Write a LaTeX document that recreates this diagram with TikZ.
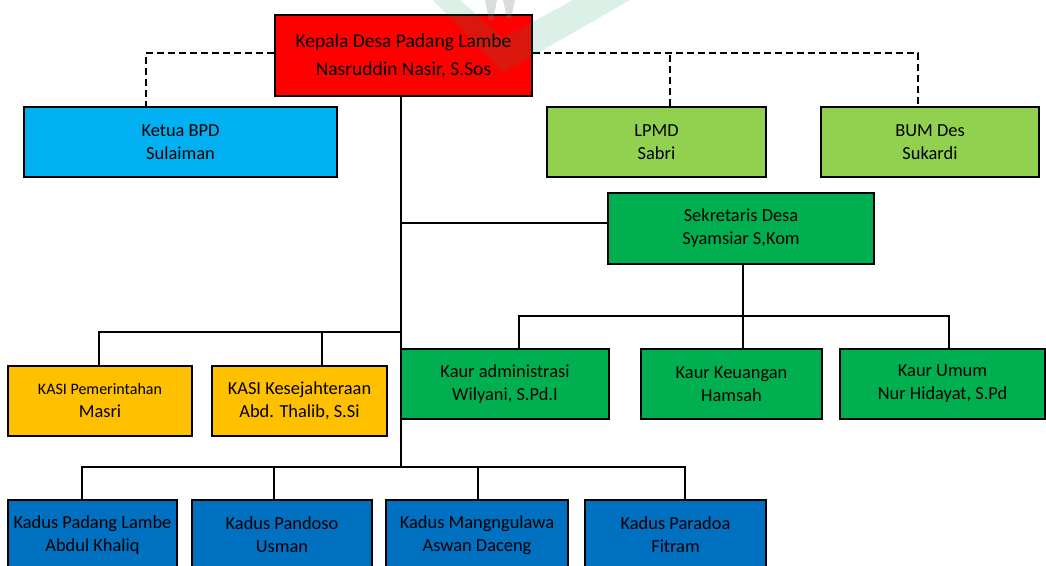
\documentclass[tikz,border=0pt]{standalone}
\usepackage{fontspec}
\setmainfont{Carlito}
\definecolor{cred}{HTML}{FF0000}
\definecolor{cskyblue}{HTML}{00B0F0}
\definecolor{clightgreen}{HTML}{92D050}
\definecolor{cgreen}{HTML}{00B050}
\definecolor{corange}{HTML}{FFC000}
\definecolor{cblue}{HTML}{0070C0}
\definecolor{wmgreen}{RGB}{0,160,90}
\definecolor{wmgray}{RGB}{120,135,130}
\begin{document}
\begin{tikzpicture}[x=1pt,y=-1pt,
  box/.style={draw=black,line width=1.8pt,inner sep=0pt,align=center,
    font=\fontsize{18.4}{23}\selectfont,text=black},
  conn/.style={line width=1.8pt,black},
  dconn/.style={line width=2.4pt,black,dash pattern=on 7pt off 4pt}]
\useasboundingbox (0,0) rectangle (1046,565);
\clip (0,0) rectangle (1046,565);
\fill[white] (0,0) rectangle (1046,565);

% boxes
\node[box,fill=cred,minimum width=257,minimum height=81,
  font=\fontsize{19.5}{23}\selectfont] (kepala) at (403.5,55.5)
  {Kepala Desa Padang Lambe\\[5pt]Nasruddin Nasir, S.Sos};
\node[box,fill=cskyblue,minimum width=313,minimum height=70] (bpd) at (180.5,142)
  {Ketua BPD\\Sulaiman};
\node[box,fill=clightgreen,minimum width=219,minimum height=70] (lpmd) at (656.5,142)
  {LPMD\\Sabri};
\node[box,fill=clightgreen,minimum width=218,minimum height=70] (bum) at (930,142)
  {BUM Des\\Sukardi};
\node[box,fill=cgreen,minimum width=266,minimum height=71] (sek) at (741,228.5)
  {Sekretaris Desa\\Syamsiar S,Kom};
\node[box,fill=cgreen,minimum width=208,minimum height=70] (kaur1) at (505,384)
  {Kaur administrasi\\Wilyani, S.Pd.I};
\node[box,fill=cgreen,minimum width=181,minimum height=70] (kaur2) at (731.5,384)
  {Kaur Keuangan\\Hamsah};
\node[box,fill=cgreen,minimum width=205,minimum height=70] (kaur3) at (942.5,384)
  {Kaur Umum\\Nur Hidayat, S.Pd};
\node[box,fill=corange,minimum width=184,minimum height=70] (kasi1) at (100,401)
  {{\fontsize{16}{19}\selectfont KASI Pemerintahan}\\Masri};
\node[box,fill=corange,minimum width=175,minimum height=70] (kasi2) at (299.5,401)
  {KASI Kesejahteraan\\Abd. Thalib, S.Si};
\node[box,fill=cblue,minimum width=169,minimum height=70] (kadus1) at (92.5,535)
  {Kadus Padang Lambe\\Abdul Khaliq};
\node[box,fill=cblue,minimum width=180,minimum height=70] (kadus2) at (282,535)
  {Kadus Pandoso\\Usman};
\node[box,fill=cblue,minimum width=182,minimum height=70] (kadus3) at (477,535)
  {Kadus Mangngulawa\\Aswan Daceng};
\node[box,fill=cblue,minimum width=181,minimum height=70] (kadus4) at (675.5,535)
  {Kadus Paradoa\\Fitram};

% bus coordinates
\coordinate (trunk) at (401,467);
\coordinate (kasibus) at (401,332);
\coordinate (kaurbus) at (743,316);
\coordinate (sekin) at ([yshift=5.5pt]sek.west);
\coordinate (dl) at ([yshift=2.5pt]kepala.west);
\coordinate (dr) at ([yshift=2.5pt]kepala.east);

% dashed advisory links
\draw[dconn] (dl) -| ([xshift=-34.5pt]bpd.north);
\draw[dconn] (dr) -| ([xshift=-12pt]bum.north);
\draw[dconn] ([xshift=13.5pt]lpmd.north) -- ([xshift=13.5pt]lpmd.north |- dr);

% solid links
\draw[conn] (kepala.south -| trunk) -- (trunk);
\draw[conn] (sekin) -- (sekin -| trunk);
\draw[conn] ([xshift=-1pt]kasi1.north) |- (kasibus);
\draw[conn] ([xshift=22.5pt]kasi2.north) -- ([xshift=22.5pt]kasi2.north |- kasibus);
\draw[conn] ([xshift=2pt]sek.south) -- (kaurbus);
\draw[conn] ([xshift=14pt]kaur1.north) |- (kaurbus);
\draw[conn] ([xshift=6.5pt]kaur3.north) |- (kaurbus);
\draw[conn] ([xshift=11.5pt]kaur2.north) -- (kaurbus);
\draw[conn] ([xshift=-10.5pt]kadus1.north) |- (trunk);
\draw[conn] ([xshift=9.5pt]kadus4.north) |- (trunk);
\draw[conn] ([xshift=-8pt]kadus2.north) -- ([xshift=-8pt]kadus2.north |- trunk);
\draw[conn] ([xshift=1pt]kadus3.north) -- ([xshift=1pt]kadus3.north |- trunk);

% faint watermark
\fill[wmgreen,opacity=0.14] (433,0) -- (503,73) -- (630,0) -- (573,0) -- (503,38) -- (460,0) -- cycle;
\fill[wmgray,opacity=0.28] (485,0) -- (497,0) -- (493,20) -- (489,20) -- cycle;
\fill[wmgray,opacity=0.28] (503,0) -- (515,0) -- (511,18) -- (507,18) -- cycle;
\end{tikzpicture}
\end{document}
